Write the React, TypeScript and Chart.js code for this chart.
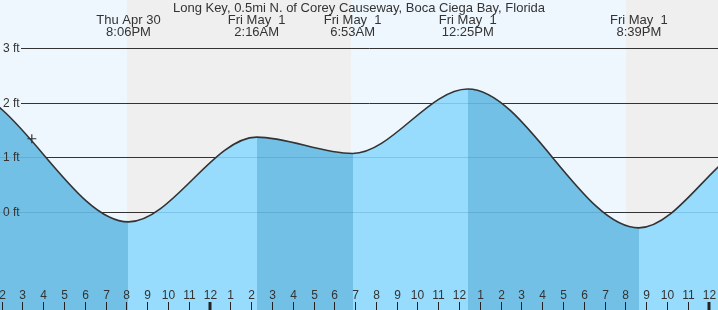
import React, { useEffect, useRef } from 'react';
import { Chart, registerables } from 'chart.js';

Chart.register(...registerables);

const TITLE = 'Long Key, 0.5mi N. of Corey Causeway, Boca Ciega Bay, Florida';

// hours since Thu Apr 30 00:00 (local); first and last extremes lie outside the view
const tideTimes = [5.5, 12.0, 20.1, 26.267, 30.883, 36.417, 44.65, 50.65, 56.5];
const tideHeights = [1.0, 2.25, -0.18, 1.37, 1.07, 2.25, -0.29, 1.31, 0.9];

const eventTimes = [20.1, 26.267, 30.883, 36.417, 44.65];
const eventDates = ['Thu Apr 30', 'Fri May  1', 'Fri May  1', 'Fri May  1', 'Fri May  1'];
const eventClocks = ['8:06PM', '2:16AM', '6:53AM', '12:25PM', '8:39PM'];

const nightStarts = [20.03, 44.03];
const nightEnds = [30.8, 54.8];

const nowTimes = [15.45];
const nowHeights = [1.34];

const gridFeet = [0, 1, 2, 3];
const gridLabels = ['0 ft', '1 ft', '2 ft', '3 ft'];

const hourTicks = [14, 15, 16, 17, 18, 19, 20, 21, 22, 23, 24, 25, 26, 27, 28, 29, 30, 31, 32, 33, 34, 35, 36, 37, 38, 39, 40, 41, 42, 43, 44, 45, 46, 47, 48];
const hourLabels = ['2', '3', '4', '5', '6', '7', '8', '9', '10', '11', '12', '1', '2', '3', '4', '5', '6', '7', '8', '9', '10', '11', '12', '1', '2', '3', '4', '5', '6', '7', '8', '9', '10', '11', '12'];
const midnightTicks = [24, 48];

const X_MIN = 13.92;
const X_MAX = 48.455;
const Y_MIN = -1.793;
const Y_MAX = 3.878;

const DAY_BG = '#eef7fe';
const NIGHT_BG = '#efefef';
const FALLING = '#73c0e6';
const RISING = '#97dcfc';
const INK = '#333333';
const FONT_SMALL = '12px "Liberation Sans", Arial, sans-serif';
const FONT_TOP = '13px "Liberation Sans", Arial, sans-serif';

export default function App() {
  const ref = useRef<HTMLCanvasElement | null>(null);

  useEffect(() => {
    document.body.style.margin = '0';
    const canvas = ref.current;
    if (!canvas) return;

    const bgPlugin = {
      id: 'tideBg',
      beforeDraw(chart: any) {
        const { ctx, chartArea: a, scales } = chart;
        const x = scales.x;
        ctx.save();
        ctx.fillStyle = DAY_BG;
        ctx.fillRect(a.left, a.top, a.right - a.left, a.bottom - a.top);
        ctx.fillStyle = NIGHT_BG;
        for (let i = 0; i < nightStarts.length; i++) {
          const x0 = Math.max(a.left, Math.round(x.getPixelForValue(nightStarts[i])));
          const x1 = Math.min(a.right, Math.round(x.getPixelForValue(nightEnds[i])));
          if (x1 > x0) ctx.fillRect(x0, a.top, x1 - x0, a.bottom - a.top);
        }
        ctx.restore();
      },
      beforeDatasetsDraw(chart: any) {
        const { ctx, chartArea: a, scales } = chart;
        const y = scales.y;
        const x = scales.x;
        ctx.save();
        ctx.strokeStyle = INK;
        ctx.lineWidth = 1;
        for (let i = 0; i < gridFeet.length; i++) {
          const py = Math.round(y.getPixelForValue(gridFeet[i])) + 0.5;
          ctx.beginPath();
          ctx.moveTo(a.left + 21, py);
          ctx.lineTo(a.right, py);
          ctx.stroke();
        }
        ctx.restore();

        // water fill under the tide curve, banded by rising / falling phase
        const meta = chart.getDatasetMeta(1);
        const line = meta.dataset;
        const pts = meta.data;
        ctx.save();
        ctx.beginPath();
        line.path(ctx);
        ctx.lineTo(pts[pts.length - 1].x, a.bottom + 5);
        ctx.lineTo(pts[0].x, a.bottom + 5);
        ctx.closePath();
        ctx.clip();
        ctx.fillStyle = FALLING;
        ctx.fillRect(a.left, a.top, a.right - a.left, a.bottom - a.top);
        ctx.fillStyle = RISING;
        for (let i = 0; i < tideTimes.length - 1; i++) {
          if (tideHeights[i + 1] > tideHeights[i]) {
            const x0 = Math.round(x.getPixelForValue(tideTimes[i]));
            const x1 = Math.round(x.getPixelForValue(tideTimes[i + 1]));
            ctx.fillRect(x0, a.top, x1 - x0, a.bottom - a.top);
          }
        }
        ctx.strokeStyle = 'rgba(30,100,150,0.2)';
        ctx.lineWidth = 1;
        for (let i = 0; i < gridFeet.length; i++) {
          const py = Math.round(y.getPixelForValue(gridFeet[i])) + 0.5;
          ctx.beginPath();
          ctx.moveTo(a.left, py);
          ctx.lineTo(a.right, py);
          ctx.stroke();
        }
        ctx.restore();
      },
      afterDatasetsDraw(chart: any) {
        const { ctx, chartArea: a, scales } = chart;
        const x = scales.x;
        const y = scales.y;
        ctx.save();
        ctx.font = FONT_SMALL;
        ctx.fillStyle = INK;
        ctx.textAlign = 'left';
        ctx.textBaseline = 'middle';
        for (let i = 0; i < gridFeet.length; i++) {
          const py = Math.round(y.getPixelForValue(gridFeet[i])) + 0.5;
          ctx.fillText(gridLabels[i], a.left + 3, py + 0.5);
        }

        ctx.font = FONT_TOP;
        ctx.textAlign = 'center';
        ctx.textBaseline = 'alphabetic';
        ctx.fillText(TITLE, (a.left + a.right) / 2, 12);
        for (let i = 0; i < eventTimes.length; i++) {
          const px = x.getPixelForValue(eventTimes[i]);
          ctx.fillText(eventDates[i], px, 24);
          ctx.fillText(eventClocks[i], px, 36);
        }
        // hour ticks and labels
        ctx.font = FONT_SMALL;
        ctx.strokeStyle = '#222';
        ctx.fillStyle = '#333';
        for (let i = 0; i < hourTicks.length; i++) {
          const px = Math.round(x.getPixelForValue(hourTicks[i]));
          const thick = midnightTicks.includes(hourTicks[i]);
          ctx.lineWidth = thick ? 3 : 1;
          ctx.beginPath();
          ctx.moveTo(thick ? px : px + 0.5, a.bottom - 8);
          ctx.lineTo(thick ? px : px + 0.5, a.bottom);
          ctx.stroke();
          ctx.fillText(hourLabels[i], px + 0.5, 299);
        }
        ctx.restore();
      },
    };

    const chart = new Chart(canvas, {
      type: 'line',
      data: {
        datasets: [
          {
            label: 'now',
            data: nowTimes.map((t, i) => ({ x: t, y: nowHeights[i] })),
            showLine: false,
            pointStyle: 'cross',
            pointRadius: 4.5,
            pointBorderWidth: 1.2,
            pointBorderColor: INK,
            pointBackgroundColor: INK,
            fill: false,
          },
          {
            label: 'tide',
            data: tideTimes.map((t, i) => ({ x: t, y: tideHeights[i] })),
            borderColor: INK,
            borderWidth: 1.6,
            pointRadius: 0,
            cubicInterpolationMode: 'monotone',
            fill: false,
          },
        ],
      },
      options: {
        responsive: false,
        animation: false,
        maintainAspectRatio: false,
        layout: { padding: 0, autoPadding: false },
        events: [],
        plugins: {
          legend: { display: false },
          tooltip: { enabled: false },
          title: { display: false },
        },
        scales: {
          x: { type: 'linear', min: X_MIN, max: X_MAX, display: false },
          y: { type: 'linear', min: Y_MIN, max: Y_MAX, display: false },
        },
      },
      plugins: [bgPlugin],
    });

    return () => chart.destroy();
  }, []);

  return (
    <div style={{ width: 718, height: 310 }}>
      <canvas ref={ref} width={718} height={310} style={{ display: 'block' }} />
    </div>
  );
}
